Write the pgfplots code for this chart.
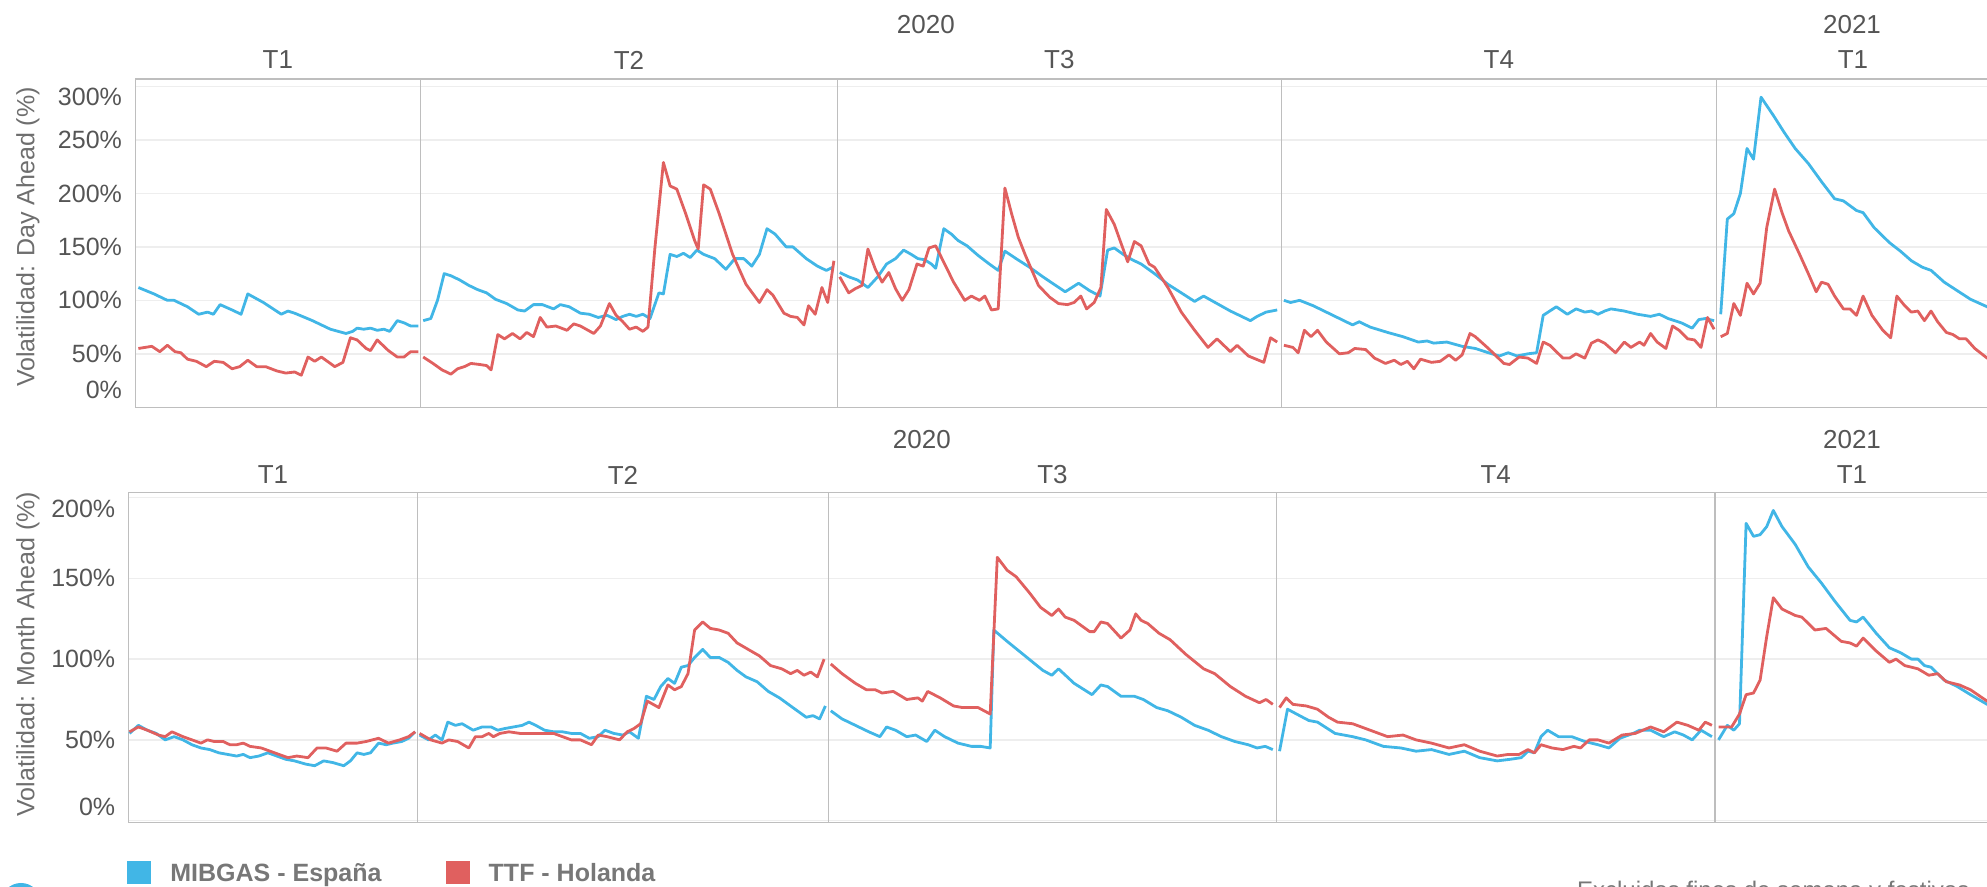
\documentclass[border=0pt]{standalone}
\usepackage{pgfplots}
\pgfplotsset{compat=1.18}
\usepackage{fontspec}
\setmainfont{Liberation Sans}
\definecolor{mblue}{HTML}{41B6E6}
\definecolor{tred}{HTML}{E0605F}
\definecolor{gridc}{HTML}{EEEEEE}
\definecolor{bordc}{HTML}{BEBEBE}
\definecolor{tickc}{HTML}{555555}
\definecolor{labc}{HTML}{6E6E6E}
\definecolor{legc}{HTML}{777777}
\begin{document}
\begin{tikzpicture}[x=0.5pt,y=0.5pt]
\useasboundingbox (0,0) rectangle (1987,887);
\clip (0,0) rectangle (1987,887);
\pgfplotsset{panel/.style={scale only axis, anchor=south west,
  axis line style={draw=bordc,line width=0.75pt},
  major tick length=0pt, xtick=\empty, ymajorgrids,
  grid style={draw=gridc, line width=0.75pt},
  extra x tick style={xmajorgrids=true, major grid style={draw=bordc,line width=0.75pt}},
  extra x tick labels={},
  yticklabel style={font=\fontsize{12.5}{14}\selectfont, text=tickc, inner sep=0pt, xshift=-6.5pt},
  extra y tick style={ymajorgrids=false},
  unbounded coords=jump, clip=true,
  every axis plot/.append style={line width=1.4pt, line join=round}}}

% ---------- Day Ahead ----------
\begin{axis}[panel, at={(67.65pt,239.85pt)}, width=927.35pt, height=164.15pt,
  xmin=135.3, xmax=1990, ymin=0, ymax=307,
  ytick={0,50,100,150,200,250,300},
  yticklabels={{},50\%,100\%,150\%,200\%,250\%,{}},
  extra y ticks={16.2,290.5}, extra y tick labels={0\%,300\%},
  extra x ticks={420.5,837.5,1281.3,1716.3}]
\addplot[mblue] coordinates {
(138.4,112) (154.0,106) (167.4,100) (174.1,100) (187.5,94) (198.7,87) (207.6,89) (213.4,87) (220.1,96) (232.1,91) (241.1,87) (247.8,106) (263.4,98) (281.3,87) (287.9,90) (294.6,88) (312.5,81) (330.4,73) (346.0,69) (352.7,71) (357.1,74) (363.8,73) (370.5,74) (377.2,72) (383.9,73) (389.7,71) (397.3,81) (404.0,79) (410.7,76) (418.3,76)
(420.5,nan)
(423.2,81) (430.8,83) (437.5,100) (444.2,125) (450.9,123) (459.8,119) (468.8,114) (477.7,110) (486.6,107) (495.5,101) (506.7,97) (517.9,91) (524.6,90) (533.5,96) (542.4,96) (553.6,92) (560.3,96) (569.2,94) (580.4,88) (589.3,87) (598.2,84) (607.1,86) (616.1,82) (622.8,85) (629.5,87) (636.2,85) (642.9,87) (650.0,83) (658.9,107) (663.4,106) (670.1,143) (676.8,141) (683.5,144) (690.2,140) (696.9,147) (703.6,143) (714.7,139) (725.9,129) (734.8,139) (743.8,139) (751.8,132) (759.4,143) (767.0,167) (775.0,162) (786.2,150) (792.9,150) (806.3,139) (817.4,132) (826.3,128) (833.0,131)
(837.5,nan)
(839.7,126) (848.7,122) (857.6,119) (867.9,112) (877.7,122) (886.6,134) (895.5,139) (903.6,147) (911.2,143) (917.9,139) (924.6,138) (931.3,134) (935.7,130) (943.8,167) (951.3,162) (958.0,156) (967.0,151) (978.1,142) (989.3,134) (998.2,128) (1004.9,146) (1016.1,139) (1029.5,131) (1042.9,122) (1054.0,115) (1065.2,108) (1078.6,116) (1089.7,109) (1100.0,104) (1107.6,147) (1114.3,149) (1123.2,143) (1132.1,138) (1141.1,134) (1154.5,125) (1167.9,115) (1181.3,107) (1194.6,99) (1203.6,104) (1217.0,97) (1230.4,90) (1239.3,86) (1250.4,81) (1257.1,85) (1266.1,89) (1277.2,91)
(1281.3,nan)
(1283.9,100) (1290.6,98) (1299.6,100) (1313.1,95) (1330.7,87) (1352.6,77) (1359.2,80) (1370.1,75) (1387.6,70) (1403.0,66) (1418.3,61) (1427.1,62) (1433.7,60) (1446.8,61) (1462.1,57) (1475.3,55) (1488.4,51) (1499.4,48) (1508.2,51) (1516.9,48) (1527.9,50) (1536.6,51) (1543.2,86) (1556.3,94) (1567.3,87) (1576.1,92) (1584.8,89) (1591.4,90) (1598.0,87) (1604.6,90) (1611.1,92) (1624.3,90) (1637.4,87) (1650.6,85) (1659.3,87) (1668.1,83) (1681.2,79) (1692.2,74) (1698.8,82) (1705.4,83) (1714.1,81)
(1716.3,nan)
(1720.7,87) (1727.3,176) (1733.8,181) (1740.4,200) (1747.0,242) (1753.5,232) (1761.0,290) (1773.3,273) (1784.2,257) (1795.2,242) (1808.3,228) (1821.5,211) (1834.6,195) (1843.4,193) (1856.5,184) (1863.1,182) (1874.1,168) (1889.4,154) (1900.4,146) (1911.4,137) (1922.3,131) (1931.1,128) (1944.2,117) (1957.3,109) (1970.5,101) (1987.1,94) (1995,90)
};
\addplot[tred] coordinates {
(138.4,55) (151.8,57) (159.8,52) (167.4,58) (175.0,52) (180.8,51) (187.5,45) (196.4,43) (206.3,38) (214.3,43) (223.2,42) (232.1,36) (239.7,38) (247.8,44) (256.7,38) (265.6,38) (276.8,34) (285.7,32) (294.6,33) (301.3,30) (308.0,47) (314.7,43) (321.4,47) (334.8,38) (342.9,42) (350.4,65) (357.1,63) (366.1,55) (370.5,53) (377.2,63) (388.4,53) (397.3,47) (404.0,47) (410.7,52) (418.3,52)
(420.5,nan)
(423.2,47) (433.0,41) (442.0,35) (450.9,31) (457.6,36) (464.3,38) (471.0,41) (479.9,40) (486.6,39) (491.1,35) (497.8,68) (504.5,64) (512.5,69) (520.1,64) (526.8,70) (533.5,66) (540.2,84) (546.9,75) (555.8,76) (567.0,72) (573.7,78) (580.4,76) (593.8,69) (600.4,76) (609.4,97) (616.1,86) (622.8,80) (629.5,73) (636.2,75) (642.9,71) (648.0,75) (655.0,150) (663.4,229) (670.1,207) (676.8,204) (685.7,181) (694.6,156) (698.2,148) (703.6,208) (710.3,204) (719.2,181) (732.6,143) (746.0,115) (759.4,98) (767.0,110) (772.8,105) (783.9,88) (790.6,85) (797.3,84) (804.0,77) (808.5,95) (815.2,87) (821.9,112) (827.7,98) (833.9,137)
(837.5,nan)
(839.7,122) (848.7,107) (855.4,111) (862.1,114) (867.9,148) (875.4,129) (882.1,117) (888.8,126) (895.5,111) (902.2,100) (908.9,110) (917.0,134) (923.2,132) (929.0,149) (935.7,151) (944.6,134) (953.6,117) (964.7,100) (971.4,104) (979.5,100) (984.8,104) (991.5,91) (998.2,92) (1004.9,205) (1011.6,181) (1018.3,159) (1025.0,143) (1038.4,114) (1049.6,103) (1058.5,97) (1067.5,96) (1074.1,98) (1080.8,104) (1086.6,92) (1094.2,98) (1100.9,112) (1106.3,185) (1114.3,171) (1127.7,136) (1134.4,155) (1141.1,151) (1149.1,134) (1154.5,131) (1167.9,112) (1181.3,89) (1194.6,72) (1208.0,56) (1217.0,64) (1230.4,52) (1237.1,58) (1248.3,48) (1263.8,42) (1270.5,65) (1277.2,61)
(1281.3,nan)
(1283.9,58) (1292.9,56) (1298.2,51) (1304.4,72) (1311.0,66) (1317.5,72) (1326.3,61) (1339.4,50) (1348.2,51) (1354.8,55) (1365.7,54) (1374.5,46) (1385.5,41) (1394.2,44) (1400.8,40) (1407.4,43) (1413.9,36) (1420.5,45) (1431.5,42) (1440.2,43) (1449.0,49) (1455.6,44) (1462.1,49) (1470.0,69) (1475.3,66) (1488.4,55) (1503.8,41) (1509.5,40) (1519.1,47) (1527.9,46) (1536.6,41) (1543.2,61) (1549.8,58) (1562.9,46) (1569.5,46) (1576.1,50) (1584.8,46) (1591.4,60) (1598.0,63) (1604.6,60) (1615.5,51) (1624.3,61) (1630.9,56) (1639.6,61) (1644.0,58) (1650.6,69) (1657.1,61) (1665.9,55) (1672.5,76) (1679.1,72) (1687.8,64) (1694.4,63) (1701.0,56) (1707.5,84) (1714.1,73)
(1716.3,nan)
(1720.7,66) (1727.3,69) (1733.8,97) (1740.4,86) (1747.0,116) (1753.5,106) (1760.1,116) (1766.7,168) (1774.6,204) (1782.0,182) (1788.6,165) (1799.6,143) (1808.3,125) (1816.2,108) (1821.5,117) (1828.1,115) (1834.6,104) (1843.4,92) (1850.0,92) (1856.5,86) (1863.1,104) (1871.9,86) (1882.8,72) (1890.7,65) (1896.8,104) (1904.7,95) (1911.3,89) (1917.8,90) (1924.4,81) (1931.0,90) (1937.6,80) (1946.3,70) (1952.9,68) (1959.5,64) (1966.1,64) (1974.8,55) (1987.1,46) (1995,44)
};
\end{axis}

% ---------- Month Ahead ----------
\begin{axis}[panel, at={(64.3pt,32.35pt)}, width=930.2pt, height=164.8pt,
  xmin=128.6, xmax=1989, ymin=-1, ymax=203,
  ytick={0,50,100,150,200},
  yticklabels={{},50\%,100\%,150\%,{}},
  extra y ticks={8.7,192.8}, extra y tick labels={0\%,200\%},
  extra x ticks={417.4,828.6,1276.3,1715.0}]
\addplot[mblue] coordinates {
(129.5,54) (138.4,59) (147.3,56) (156.3,54) (165.2,50) (174.1,52) (183.0,50) (192.0,47) (200.9,45) (209.8,44) (218.8,42) (227.7,41) (236.6,40) (243.3,41) (250.0,39) (258.9,40) (267.9,42) (276.8,40) (285.7,38) (294.6,37) (305.8,35) (314.7,34) (323.7,37) (332.6,36) (343.8,34) (350.4,37) (357.1,42) (363.8,41) (370.5,42) (378.6,48) (386.2,47) (392.9,48) (401.8,49) (408.5,51) (415.2,55)
(417.4,nan)
(419.6,53) (428.6,50) (435.3,53) (442.0,50) (447.8,61) (455.4,59) (462.1,60) (473.2,56) (482.1,58) (491.1,58) (497.8,56) (504.5,57) (513.4,58) (522.3,59) (529.0,61) (535.7,59) (544.6,56) (553.6,55) (562.5,55) (571.4,54) (580.4,54) (589.3,51) (598.2,52) (604.9,56) (613.8,54) (622.8,53) (629.5,55) (638.4,51) (646.4,77) (654.0,75) (660.7,83) (667.9,88) (674.6,85) (681.3,95) (688.0,96) (694.6,101) (702.7,106) (710.3,101) (719.2,101) (728.1,98) (737.1,93) (746.0,89) (757.1,86) (768.3,80) (779.5,76) (790.6,71) (797.3,68) (806.3,64) (812.9,65) (819.6,63) (825.4,71)
(828.6,nan)
(830.8,68) (842.0,63) (855.4,59) (868.8,55) (879.9,52) (886.6,58) (895.5,56) (906.7,52) (915.6,53) (926.8,49) (934.8,56) (944.6,52) (958.0,48) (971.4,46) (980.4,46) (990.2,45) (993.8,118) (1007.1,111) (1025.0,102) (1042.9,93) (1051.8,90) (1058.5,94) (1074.1,85) (1092.0,78) (1100.9,84) (1107.6,83) (1121.0,77) (1134.4,77) (1143.3,75) (1156.7,70) (1167.9,68) (1181.3,64) (1194.6,59) (1208.0,56) (1221.4,52) (1234.8,49) (1248.2,47) (1257.1,45) (1265.2,46) (1272.8,44)
(1276.3,nan)
(1279.5,43) (1287.5,69) (1299.6,65) (1308.8,62) (1317.5,61) (1335.1,54) (1352.6,52) (1365.7,50) (1383.3,46) (1400.8,45) (1416.1,43) (1431.5,44) (1449.0,41) (1464.3,43) (1479.7,39) (1497.2,37) (1510.3,38) (1521.3,39) (1527.9,43) (1534.4,42) (1541.0,52) (1547.6,56) (1558.5,52) (1571.7,52) (1584.8,49) (1598.0,47) (1608.9,45) (1619.9,51) (1633.0,54) (1639.6,56) (1650.6,56) (1663.7,52) (1674.7,55) (1683.4,53) (1692.2,50) (1701.0,56) (1711.9,52)
(1715.0,nan)
(1718.5,50) (1727.3,59) (1733.8,56) (1739.5,60) (1746.1,184) (1753.5,176) (1760.1,177) (1766.7,182) (1773.3,192) (1782.0,182) (1795.2,171) (1808.3,157) (1821.5,147) (1834.6,136) (1850.0,124) (1856.5,123) (1863.1,126) (1876.2,116) (1889.4,107) (1900.4,104) (1911.4,100) (1917.9,100) (1924.4,96) (1931.0,95) (1944.2,87) (1957.3,83) (1970.5,78) (1987.1,72) (1995,70)
};
\addplot[tred] coordinates {
(129.5,55) (138.4,58) (147.3,56) (158.5,53) (165.2,52) (171.9,55) (183.0,52) (192.0,50) (200.9,48) (207.6,50) (214.3,49) (223.2,49) (229.9,47) (236.6,47) (243.3,48) (250.0,46) (261.2,45) (270.1,43) (279.0,41) (288.0,39) (296.9,40) (308.0,39) (317.0,45) (325.9,45) (337.1,43) (346.0,48) (357.1,48) (366.1,49) (378.6,51) (388.4,48) (399.6,50) (408.5,52) (415.2,55)
(417.4,nan)
(419.6,54) (430.8,50) (442.0,48) (448.7,50) (457.6,49) (468.8,45) (475.4,52) (482.1,52) (488.8,54) (493.3,52) (500.0,54) (508.9,55) (520.1,54) (531.3,54) (542.4,54) (553.6,54) (562.5,52) (571.4,50) (580.4,50) (591.5,47) (598.2,53) (607.1,52) (619.6,50) (627.2,55) (633.9,57) (640.6,60) (647.3,74) (658.9,70) (667.9,84) (674.6,81) (681.3,83) (688.0,91) (694.6,118) (702.7,123) (710.3,119) (719.2,118) (728.1,116) (737.1,110) (748.2,106) (759.4,102) (770.5,96) (781.7,94) (790.6,91) (797.3,93) (804.0,90) (810.7,92) (817.4,89) (824.1,100)
(828.6,nan)
(830.8,97) (842.0,91) (855.4,85) (866.5,81) (875.4,81) (882.1,79) (893.3,80) (906.7,75) (917.9,76) (922.3,74) (927.7,80) (940.2,76) (953.6,71) (962.5,70) (978.1,70) (990.2,66) (997.3,163) (1007.1,155) (1016.1,151) (1029.5,141) (1040.6,132) (1051.8,127) (1058.5,131) (1065.2,126) (1074.1,124) (1089.7,117) (1094.2,117) (1100.9,123) (1107.6,122) (1121.0,113) (1129.9,118) (1135.7,128) (1141.1,124) (1147.8,122) (1159.0,116) (1170.1,112) (1185.7,103) (1203.6,94) (1214.7,91) (1230.4,83) (1245.5,77) (1259.4,73) (1266.1,75) (1272.8,72)
(1276.3,nan)
(1279.5,70) (1286.2,76) (1292.9,72) (1306.3,71) (1317.4,69) (1328.6,64) (1337.5,61) (1352.6,60) (1370.1,56) (1387.6,52) (1403.0,53) (1416.1,50) (1431.5,48) (1449.0,45) (1464.3,47) (1479.7,43) (1497.2,40) (1508.2,41) (1519.1,41) (1527.9,44) (1534.4,42) (1541.0,47) (1552.0,45) (1562.9,44) (1573.9,46) (1580.5,45) (1589.2,50) (1598.0,50) (1608.9,48) (1622.1,53) (1635.2,54) (1650.6,58) (1663.7,55) (1676.9,61) (1687.8,59) (1698.8,56) (1705.3,61) (1711.9,59)
(1715.0,nan)
(1718.5,58) (1731.6,58) (1739.5,66) (1746.1,78) (1753.5,79) (1760.1,87) (1766.7,114) (1773.3,138) (1782.0,131) (1795.2,127) (1801.8,126) (1814.9,118) (1826.0,119) (1841.2,111) (1850.0,110) (1856.5,108) (1863.1,113) (1876.2,105) (1889.4,98) (1896.0,100) (1904.7,96) (1917.9,94) (1928.8,90) (1937.6,91) (1946.3,86) (1959.5,84) (1970.5,81) (1987.1,74) (1995,72)
};
\end{axis}

% ---------- headers ----------
\begin{scope}[every node/.style={font=\fontsize{13}{15}\selectfont, text=tickc, inner sep=0pt}]
\node at (925.8,862) {2020};
\node at (1852,862) {2021};
\node at (277.9,827) {T1};
\node at (629.0,827) {T2};
\node at (1059.4,827) {T3};
\node at (1498.8,827) {T4};
\node at (1853,827) {T1};
\node at (921.8,447) {2020};
\node at (1852,447) {2021};
\node at (273.0,412) {T1};
\node at (623.0,412) {T2};
\node at (1052.5,412) {T3};
\node at (1495.7,412) {T4};
\node at (1852,412) {T1};
\end{scope}

% ---------- axis titles ----------
\node[rotate=90, font=\fontsize{12.5}{15}\selectfont, text=labc, inner sep=0pt] at (28,650) {Volatilidad: Day Ahead (\%)};
\node[rotate=90, font=\fontsize{12.5}{15}\selectfont, text=labc, inner sep=0pt] at (28,233) {Volatilidad: Month Ahead (\%)};

% ---------- legend ----------
\fill[mblue] (127.3,3) rectangle (150.7,26.3);
\node[anchor=base west, inner sep=0pt, font=\bfseries\fontsize{12.5}{15}\selectfont, text=legc] at (170,5.3) {MIBGAS - España};
\fill[tred] (446.3,3) rectangle (469.7,26.3);
\node[anchor=base west, inner sep=0pt, font=\bfseries\fontsize{12.5}{15}\selectfont, text=legc] at (488.3,5.3) {TTF - Holanda};

% ---------- footnote and logo (cut at bottom, as in the reference) ----------
\node[anchor=base west, inner sep=0pt, font=\fontsize{12}{14}\selectfont, text=legc] at (1576.7,-12) {Excluidos fines de semana y festivos};
\fill[mblue] (21,-16) circle (20);
\end{tikzpicture}
\end{document}
